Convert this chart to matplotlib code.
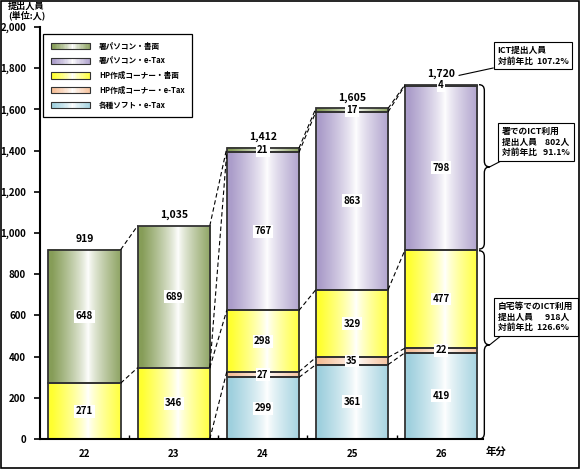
import numpy as np
import matplotlib
matplotlib.use("Agg")
import matplotlib.pyplot as plt
from matplotlib.patches import Rectangle, Patch, PathPatch
from matplotlib.path import Path
from matplotlib.legend_handler import HandlerBase

plt.rcParams["font.family"] = ["Noto Sans CJK JP", "DejaVu Sans"]

# ---- data ----
years = ["22", "23", "24", "25", "26"]
soft_etax = [0, 0, 299, 361, 419]      # 各種ソフト・e-Tax
hp_etax = [0, 0, 27, 35, 22]           # HP作成コーナー・e-Tax
hp_paper = [271, 346, 298, 329, 477]   # HP作成コーナー・書面
office_etax = [0, 0, 767, 863, 798]    # 署パソコン・e-Tax
office_paper = [648, 689, 21, 17, 4]   # 署パソコン・書面

series = [soft_etax, hp_etax, hp_paper, office_etax, office_paper]
names = ["各種ソフト・e-Tax", "HP作成コーナー・e-Tax", "HP作成コーナー・書面",
         "署パソコン・e-Tax", "署パソコン・書面"]
colors = ["#9fd0de", "#f6bf98", "#ffff30", "#ab9dca", "#869d58"]


def grad_rgb(color, n=64):
    c = np.array(matplotlib.colors.to_rgb(color))
    t = np.linspace(0, 1, n)
    w = np.clip(np.abs(t - 0.55) / 0.5, 0, 1) ** 0.8
    return 1 - w[:, None] * (1 - c[None, :])


class GradHandler(HandlerBase):
    def create_artists(self, legend, orig_handle, xdescent, ydescent,
                       width, height, fontsize, trans):
        n = 30
        rgb = grad_rgb(orig_handle.get_facecolor(), n)
        arts = []
        for i in range(n):
            r = Rectangle((-xdescent + width * i / n, -ydescent), width / n + 0.3, height,
                          facecolor=rgb[i], edgecolor="none", transform=trans)
            arts.append(r)
        arts.append(Rectangle((-xdescent, -ydescent), width, height, facecolor="none",
                              edgecolor="#333333", lw=0.8, transform=trans))
        return arts


fig = plt.figure(figsize=(5.8, 4.69), dpi=100)
ax = fig.add_axes([40 / 580, 30 / 469, 443 / 580, 412 / 469])

x = np.arange(len(years))
bw = 0.81
totals = np.sum(series, axis=0)

bottoms = np.zeros((len(series), len(years)))
acc = np.zeros(len(years))
for k, vals in enumerate(series):
    bottoms[k] = acc
    acc = acc + np.array(vals)

# bars with horizontal gradient
for k, vals in enumerate(series):
    img = grad_rgb(colors[k])[None, :, :]
    for i, v in enumerate(vals):
        if v <= 0:
            continue
        b = bottoms[k][i]
        ax.imshow(img, extent=(x[i] - bw / 2, x[i] + bw / 2, b, b + v),
                  aspect="auto", zorder=1, interpolation="bilinear")
        ax.add_patch(Rectangle((x[i] - bw / 2, b), bw, v, facecolor="none",
                               edgecolor="#333333", lw=1.3, zorder=2))
        ax.text(x[i], b + v / 2, f"{v}", ha="center", va="center", fontsize=7,
                fontweight="bold", zorder=4,
                bbox=dict(boxstyle="square,pad=0.15", fc="white", ec="none"))

# totals
for i, t in enumerate(totals):
    ax.text(x[i], t + 28, f"{t:,}", ha="center", va="bottom", fontsize=7.5,
            fontweight="bold", zorder=4)

# dashed connectors between neighbouring bars
done = set()
for i in range(len(years) - 1):
    for k, vals in enumerate(series):
        if vals[i] > 0 and vals[i + 1] > 0:
            for yl, yr in [(bottoms[k][i], bottoms[k][i + 1]),
                           (bottoms[k][i] + vals[i], bottoms[k][i + 1] + vals[i + 1])]:
                if (yl == 0 and yr == 0) or (i, yl, yr) in done:
                    continue
                done.add((i, yl, yr))
                ax.plot([x[i] + bw / 2, x[i + 1] - bw / 2], [yl, yr], color="black",
                        lw=0.8, ls=(0, (4, 2.5)), zorder=3)


def brace(ax, x0, y0, y1, a, r):
    ym = (y0 + y1) / 2
    verts = [(x0, y1), (x0 + a, y1), (x0 + a, y1 - r),
             (x0 + a, ym + r), (x0 + a, ym), (x0 + 2 * a, ym),
             (x0 + a, ym), (x0 + a, ym - r),
             (x0 + a, y0 + r), (x0 + a, y0), (x0, y0)]
    codes = [Path.MOVETO, Path.CURVE3, Path.CURVE3,
             Path.LINETO, Path.CURVE3, Path.CURVE3,
             Path.CURVE3, Path.CURVE3,
             Path.LINETO, Path.CURVE3, Path.CURVE3]
    ax.add_patch(PathPatch(Path(verts, codes), fill=False, lw=1.0,
                           edgecolor="black", clip_on=False, zorder=3))
    return x0 + 2 * a, ym


last = len(years) - 1
home_now = soft_etax[last] + hp_etax[last] + hp_paper[last]
home_prev = soft_etax[last - 1] + hp_etax[last - 1] + hp_paper[last - 1]
office_now = office_etax[last] + office_paper[last]
office_prev = office_etax[last - 1] + office_paper[last - 1]

bx = x[last] + bw / 2 + 0.02
tip1 = brace(ax, bx, home_now + 4, totals[last], 0.06, 28)
tip2 = brace(ax, bx, 0, home_now - 4, 0.06, 28)

box = dict(boxstyle="square,pad=0.45", fc="white", ec="black", lw=0.8)
arrow = dict(arrowstyle="-", lw=0.8, color="black", shrinkA=0, shrinkB=0, relpos=(0.1, 0))

ax.annotate(f"ICT提出人員\n対前年比  {totals[last] / totals[last - 1] * 100:.1f}%",
            xy=(x[last] + 0.2, totals[last] + 45), xycoords="data",
            xytext=(0.919, 0.881), textcoords="figure fraction",
            ha="center", va="center", fontsize=6.3, fontweight="bold",
            multialignment="left", bbox=box, arrowprops=arrow, annotation_clip=False)
ax.annotate(f"署でのICT利用\n提出人員    {office_now}人\n対前年比   {office_now / office_prev * 100:.1f}%",
            xy=tip1, xycoords="data",
            xytext=(0.924, 0.697), textcoords="figure fraction",
            ha="center", va="center", fontsize=6.3, fontweight="bold",
            multialignment="left", bbox=box, arrowprops=arrow, annotation_clip=False)
ax.annotate(f"自宅等でのICT利用\n提出人員      {home_now}人\n対前年比  {home_now / home_prev * 100:.1f}%",
            xy=tip2, xycoords="data",
            xytext=(0.924, 0.324), textcoords="figure fraction",
            ha="center", va="center", fontsize=6.3, fontweight="bold",
            multialignment="left", bbox=box, arrowprops=arrow, annotation_clip=False)

# axes styling
ax.set_xlim(-0.5, len(years) - 0.53)
ax.set_ylim(0, 2000)
ax.set_yticks(np.arange(0, 2001, 200))
ax.set_yticklabels([f"{v:,}" for v in range(0, 2001, 200)], fontsize=7, fontweight="bold")
ax.set_xticks(x)
ax.set_xticklabels(years, fontsize=7, fontweight="bold")
ax.set_xticks(x[:-1] + 0.5, minor=True)
ax.tick_params(axis="x", which="major", length=0, pad=7)
ax.tick_params(axis="x", which="minor", direction="in", length=3, width=1)
ax.tick_params(axis="y", direction="out", length=4, width=1.2, pad=6)
for s in ["top", "right"]:
    ax.spines[s].set_visible(False)
for s in ["left", "bottom"]:
    ax.spines[s].set_linewidth(1.5)

ax.text(4.62, -0.032, "年分", transform=ax.get_xaxis_transform(), ha="center",
        va="center", fontsize=7.5, fontweight="bold")
fig.text(0.014, 0.996, "提出人員\n(単位:人)", ha="left", va="top", fontsize=6.6,
         fontweight="bold", linespacing=0.85)

handles = [Patch(facecolor=colors[k], label=names[k]) for k in reversed(range(len(series)))]
leg = ax.legend(handles=handles, handler_map={Patch: GradHandler()}, loc="upper left",
                bbox_to_anchor=(0.007, 0.983), borderaxespad=0,
                handlelength=5.2, handleheight=0.9, labelspacing=0.75, handletextpad=1.1,
                borderpad=1.0, fancybox=False, edgecolor="black", framealpha=1,
                prop=dict(size=5.5, weight="bold"))
leg.get_frame().set_linewidth(0.9)
leg.set_zorder(5)

fig.patches.append(Rectangle((0.002, 0.002), 0.996, 0.996, transform=fig.transFigure,
                             fill=False, edgecolor="black", lw=1.2))

fig.savefig("out.png", dpi=100)
